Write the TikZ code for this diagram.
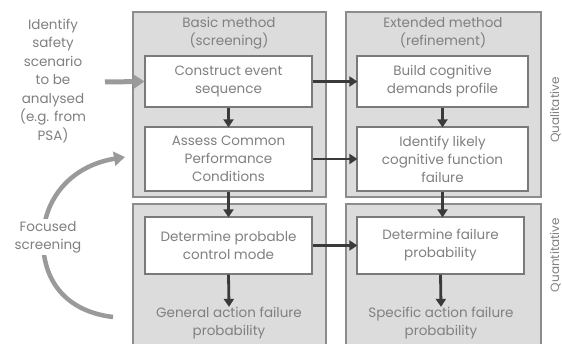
\documentclass[tikz,border=0pt]{standalone}
\usepackage{fontspec}
\setmainfont{Poppins}
\usetikzlibrary{arrows.meta}
\definecolor{panelfill}{HTML}{DCDCDC}
\definecolor{panelline}{HTML}{8C8C8C}
\definecolor{boxline}{HTML}{7A7A7A}
\definecolor{txt}{HTML}{808080}
\definecolor{darkarrow}{HTML}{3A3A3A}
\definecolor{softarrow}{HTML}{9A9A9A}
\tikzset{
  panel/.style={draw=panelline, fill=panelfill, line width=1.2pt, inner sep=0pt},
  stepbox/.style={draw=boxline, fill=white, line width=1.2pt, inner sep=0pt,
    align=center, text=txt, font=\fontsize{13.5}{18}\selectfont},
  label/.style={align=center, text=txt, font=\fontsize{13.5}{18}\selectfont, inner sep=1pt},
  sidelabel/.style={text=txt, font=\fontsize{12}{14}\selectfont, inner sep=0.5pt,
    rotate=90, anchor=base},
  flow/.style={draw=darkarrow, line width=2.8pt,
    -{Triangle[length=8pt,width=10pt]}, shorten >=-1pt},
  feed/.style={draw=softarrow, line width=5pt,
    -{Triangle[length=11pt,width=14pt]}},
}
\begin{document}
\begin{tikzpicture}[x=1pt,y=-1pt]
\useasboundingbox (0,0) rectangle (562,344);
\clip (0,0) rectangle (562,344);

% method panels
\node[panel, minimum width=193pt, minimum height=185pt] (pA) at (229.5,104.5) {};
\node[panel, minimum width=195pt, minimum height=185pt] (pB) at (443.5,104.5) {};
\node[panel, minimum width=193pt, minimum height=150pt] (pC) at (229.5,279) {};
\node[panel, minimum width=195pt, minimum height=150pt] (pD) at (443.5,279) {};

% panel headings
\node[label] (tA) at (229,33) {Basic method\\(screening)};
\node[label] (tB) at (443,33) {Extended method\\(refinement)};

% step boxes
\node[stepbox, minimum width=167pt, minimum height=51pt] (b1) at (228.5,81.5) {Construct event\\sequence};
\node[stepbox, minimum width=167pt, minimum height=64pt] (b2) at (228.5,159) {Assess Common\\Performance\\Conditions};
\node[stepbox, minimum width=171pt, minimum height=51pt] (b3) at (442.5,81.5) {Build cognitive\\demands profile};
\node[stepbox, minimum width=171pt, minimum height=64pt] (b4) at (442.5,159) {Identify likely\\cognitive function\\failure};
\node[stepbox, minimum width=167pt, minimum height=57pt] (b5) at (228.5,245.5) {Determine probable\\control mode};
\node[stepbox, minimum width=167pt, minimum height=57pt] (b6) at (440.5,245.5) {Determine failure\\probability};

% results
\node[label] (o1) at (229,323) {General action failure\\probability};
\node[label] (o2) at (441,323) {Specific action failure\\probability};

% side annotations
\node[label, font=\fontsize{13.5}{18.5}\selectfont] (src) at (53,81) {Identify\\safety\\scenario\\to be\\analysed\\(e.g. from\\PSA)};
\node[sidelabel] (ql) at (559,110) {Qualitative};
\node[sidelabel] (qn) at (559,255) {Quantitative};

% input arrow
\coordinate (in) at (105,82);
\draw[feed] (in) -- (b1.west);

% focused screening loop
\coordinate (fsA) at (113,317);
\coordinate (fsB) at (125,157);
\draw[feed, line width=4.5pt] (fsA) .. controls (70,312) and (43,285) .. (43,240)
  .. controls (43,200) and (70,166) .. (fsB);
\node[label, fill=white, inner sep=2pt] (fs) at (48,237) {Focused\\screening};

% flow between steps
\draw[flow] (b1) -- (b2);
\draw[flow] (b2) -- (b5);
\draw[flow] (b3) -- (b4);
\draw[flow] (b4) -- (b4 |- b6.north);
\draw[flow] (b5.south) -- (o1.north);
\draw[flow] (b6.south) -- (o2.north);
\draw[flow] (b1.east) -- (b3.west);
\draw[flow] (b2.east) -- (b4.west);
\draw[flow] (b5.east) -- (b6.west);
\end{tikzpicture}
\end{document}
